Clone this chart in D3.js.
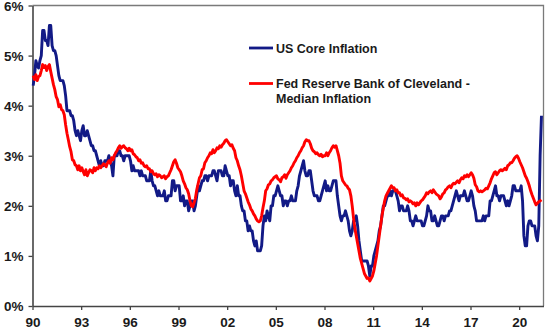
<!DOCTYPE html>
<head>
  <meta charset="utf-8" />
  <script src="https://d3js.org/d3.v7.min.js"></script>
  <style>
    body { margin: 0; background: white; }
    text { font-family: "Liberation Sans", Arial, sans-serif; font-weight: bold; fill: #1a1a1a; }
  </style>
</head>
<body>
  <script>
    // monthly year-on-year %, Jan 1990 -> May 2021
    var startYear = 1990;
    var coreInflation = [
      4.4, 4.6, 4.9, 4.8, 4.75, 4.9, 5.0, 5.5, 5.5, 5.3, 5.3, 5.2,   // 1990
      5.6, 5.6, 5.2, 5.1, 5.1, 5.0, 4.8, 4.6, 4.5, 4.5, 4.5, 4.4,    // 1991
      4.2, 3.9, 3.9, 3.9, 3.8, 3.8, 3.7, 3.5, 3.4, 3.5, 3.4, 3.3,    // 1992
      3.5, 3.6, 3.4, 3.4, 3.5, 3.4, 3.3, 3.2, 3.2, 3.1, 3.1, 3.0,    // 1993
      2.9, 2.8, 2.9, 2.8, 2.8, 2.9, 2.9, 2.9, 3.0, 2.9, 2.8, 2.6,    // 1994
      3.0, 3.0, 3.0, 3.1, 3.1, 3.0, 3.0, 2.9, 3.0, 3.0, 3.0, 3.0,    // 1995
      2.9, 2.7, 2.8, 2.7, 2.7, 2.7, 2.7, 2.6, 2.7, 2.6, 2.6, 2.6,    // 1996
      2.5, 2.5, 2.5, 2.7, 2.5, 2.4, 2.4, 2.3, 2.2, 2.3, 2.2, 2.2,    // 1997
      2.2, 2.3, 2.1, 2.1, 2.2, 2.2, 2.2, 2.5, 2.5, 2.3, 2.4, 2.4,    // 1998
      2.4, 2.1, 2.1, 2.2, 2.0, 2.1, 2.1, 1.9, 2.0, 2.1, 2.1, 1.9,    // 1999
      2.0, 2.2, 2.4, 2.3, 2.4, 2.5, 2.5, 2.6, 2.6, 2.5, 2.6, 2.6,    // 2000
      2.6, 2.7, 2.7, 2.6, 2.5, 2.7, 2.7, 2.7, 2.6, 2.6, 2.8, 2.7,    // 2001
      2.6, 2.6, 2.4, 2.5, 2.5, 2.3, 2.2, 2.4, 2.2, 2.2, 2.0, 1.9,    // 2002
      1.9, 1.7, 1.7, 1.5, 1.6, 1.5, 1.5, 1.3, 1.2, 1.3, 1.1, 1.1,    // 2003
      1.1, 1.2, 1.6, 1.8, 1.7, 1.9, 1.8, 1.7, 2.0, 2.0, 2.2, 2.2,    // 2004
      2.3, 2.4, 2.3, 2.2, 2.2, 2.0, 2.1, 2.1, 2.0, 2.1, 2.1, 2.2,    // 2005
      2.1, 2.1, 2.1, 2.3, 2.4, 2.6, 2.7, 2.8, 2.9, 2.7, 2.6, 2.6,    // 2006
      2.7, 2.7, 2.5, 2.3, 2.2, 2.2, 2.2, 2.1, 2.1, 2.2, 2.3, 2.4,    // 2007
      2.5, 2.3, 2.4, 2.3, 2.3, 2.4, 2.5, 2.5, 2.5, 2.2, 2.0, 1.8,    // 2008
      1.7, 1.8, 1.8, 1.9, 1.8, 1.7, 1.5, 1.4, 1.5, 1.7, 1.7, 1.8,    // 2009
      1.6, 1.3, 1.1, 0.9, 0.9, 0.9, 0.9, 0.9, 0.8, 0.6, 0.8, 0.8,    // 2010
      1.0, 1.1, 1.2, 1.3, 1.5, 1.6, 1.8, 2.0, 2.0, 2.1, 2.2, 2.2,    // 2011
      2.3, 2.2, 2.3, 2.3, 2.3, 2.2, 2.1, 1.9, 2.0, 2.0, 1.9, 1.9,    // 2012
      1.9, 2.0, 1.9, 1.7, 1.7, 1.6, 1.7, 1.8, 1.7, 1.7, 1.7, 1.7,    // 2013
      1.6, 1.6, 1.7, 1.8, 2.0, 1.9, 1.9, 1.7, 1.7, 1.8, 1.7, 1.6,    // 2014
      1.6, 1.7, 1.8, 1.8, 1.7, 1.8, 1.8, 1.8, 1.9, 1.9, 2.0, 2.1,    // 2015
      2.2, 2.3, 2.2, 2.1, 2.2, 2.2, 2.2, 2.3, 2.2, 2.1, 2.1, 2.2,    // 2016
      2.3, 2.2, 2.0, 1.9, 1.7, 1.7, 1.7, 1.7, 1.7, 1.8, 1.7, 1.8,    // 2017
      1.8, 1.8, 2.1, 2.1, 2.2, 2.3, 2.4, 2.2, 2.2, 2.1, 2.2, 2.2,    // 2018
      2.2, 2.1, 2.0, 2.1, 2.0, 2.1, 2.2, 2.4, 2.4, 2.3, 2.3, 2.3,    // 2019
      2.3, 2.4, 2.1, 1.4, 1.2, 1.2, 1.6, 1.7, 1.7, 1.6, 1.6, 1.6,    // 2020
      1.4, 1.3, 1.6, 3.0, 3.8                                        // 2021
    ];
    var medianInflation = [
      4.6, 4.52, 4.62, 4.5, 4.58, 4.6, 4.7, 4.82, 4.76, 4.8, 4.7, 4.78,    // 1990
      4.82, 4.68, 4.55, 4.42, 4.32, 4.18, 4.12, 3.98, 4.02, 3.92, 3.9, 3.82, // 1991
      3.62, 3.45, 3.32, 3.18, 3.08, 2.92, 2.9, 2.82, 2.8, 2.72, 2.8, 2.7,   // 1992
      2.76, 2.68, 2.62, 2.72, 2.6, 2.66, 2.72, 2.7, 2.66, 2.76, 2.7, 2.76,  // 1993
      2.74, 2.8, 2.76, 2.8, 2.84, 2.82, 2.78, 2.86, 2.9, 2.85, 2.96, 2.92,  // 1994
      3.0, 3.06, 3.1, 3.16, 3.2, 3.15, 3.18, 3.2, 3.16, 3.14, 3.1, 3.15,    // 1995
      3.1, 3.12, 3.04, 3.02, 2.98, 2.96, 2.9, 2.92, 2.85, 2.86, 2.8, 2.78,  // 1996
      2.8, 2.74, 2.74, 2.68, 2.7, 2.64, 2.62, 2.64, 2.58, 2.62, 2.6, 2.56,  // 1997
      2.58, 2.6, 2.54, 2.58, 2.6, 2.66, 2.72, 2.8, 2.88, 2.92, 2.85, 2.76,  // 1998
      2.72, 2.68, 2.6, 2.5, 2.44, 2.36, 2.32, 2.24, 2.1, 2.0, 1.98, 2.06,   // 1999
      2.15, 2.32, 2.44, 2.56, 2.6, 2.72, 2.74, 2.86, 2.9, 2.96, 3.0, 3.06,  // 2000
      3.04, 3.12, 3.06, 3.1, 3.16, 3.14, 3.2, 3.17, 3.22, 3.25, 3.3, 3.32,  // 2001
      3.28, 3.24, 3.2, 3.22, 3.15, 3.1, 2.96, 2.9, 2.8, 2.72, 2.6, 2.45,    // 2002
      2.3, 2.24, 2.16, 2.08, 2.02, 1.94, 1.9, 1.84, 1.8, 1.74, 1.7, 1.68,   // 2003
      1.7, 1.8, 1.96, 2.1, 2.3, 2.34, 2.42, 2.44, 2.5, 2.52, 2.56, 2.58,    // 2004
      2.6, 2.54, 2.52, 2.48, 2.56, 2.58, 2.62, 2.55, 2.62, 2.66, 2.7, 2.76, // 2005
      2.8, 2.86, 2.9, 2.96, 3.0, 3.06, 3.1, 3.16, 3.2, 3.28, 3.32, 3.3,     // 2006
      3.3, 3.24, 3.15, 3.1, 3.08, 3.04, 3.06, 3.02, 3.0, 3.03, 2.98, 3.0,   // 2007
      3.0, 3.06, 3.0, 3.06, 3.1, 3.16, 3.2, 3.17, 3.2, 3.1, 3.0, 2.85,      // 2008
      2.6, 2.5, 2.46, 2.42, 2.4, 2.35, 2.32, 2.2, 2.0, 1.75, 1.55, 1.4,     // 2009
      1.25, 1.1, 0.95, 0.85, 0.75, 0.65, 0.6, 0.55, 0.56, 0.5, 0.55, 0.6,   // 2010
      0.7, 0.85, 1.0, 1.2, 1.4, 1.6, 1.8, 1.95, 2.1, 2.2, 2.25, 2.3,        // 2011
      2.35, 2.4, 2.36, 2.36, 2.3, 2.32, 2.26, 2.26, 2.2, 2.22, 2.16, 2.15,  // 2012
      2.12, 2.14, 2.08, 2.1, 2.08, 2.04, 2.06, 2.0, 2.06, 2.02, 2.06, 2.1,  // 2013
      2.12, 2.16, 2.2, 2.26, 2.24, 2.28, 2.3, 2.26, 2.32, 2.28, 2.24, 2.22, // 2014
      2.2, 2.14, 2.18, 2.24, 2.26, 2.32, 2.34, 2.38, 2.4, 2.36, 2.42, 2.45, // 2015
      2.44, 2.47, 2.5, 2.46, 2.52, 2.56, 2.54, 2.6, 2.58, 2.62, 2.58, 2.62, // 2016
      2.66, 2.62, 2.55, 2.42, 2.38, 2.3, 2.28, 2.3, 2.28, 2.3, 2.32, 2.35,  // 2017
      2.34, 2.4, 2.46, 2.54, 2.6, 2.66, 2.68, 2.62, 2.66, 2.7, 2.72, 2.7,   // 2018
      2.72, 2.75, 2.72, 2.8, 2.82, 2.86, 2.86, 2.9, 2.95, 2.98, 3.0, 2.95,  // 2019
      2.88, 2.82, 2.76, 2.68, 2.6, 2.55, 2.48, 2.4, 2.3, 2.22, 2.15, 2.08,  // 2020
      2.02, 2.05, 2.08, 2.1, 2.12                                           // 2021
    ];
    var xTicks = [1990, 1993, 1996, 1999, 2002, 2005, 2008, 2011, 2014, 2017, 2020];
    var xTickLabels = ["90", "93", "96", "99", "02", "05", "08", "11", "14", "17", "20"];
    var yTicks = [0, 1, 2, 3, 4, 5, 6];
    var seriesNames = ["US Core Inflation", "Fed Reserve Bank of Cleveland -|Median Inflation"];
    var seriesColors = ["#121a86", "#ff0000"];

    var width = 548, height = 334;
    var plotLeft = 32.5, plotRight = 543.5, plotTop = 5.5, plotBottom = 306;

    var svg = d3.select("body").append("svg")
      .attr("width", width)
      .attr("height", height);

    var x = d3.scaleLinear().domain([1990, 2021.5]).range([plotLeft, plotRight]);
    var y = d3.scaleLinear().domain([0, 6]).range([plotBottom, plotTop]);

    // plot frame (top / right)
    svg.append("path")
      .attr("d", "M" + plotLeft + "," + plotTop + "H" + plotRight + "V" + plotBottom)
      .attr("fill", "none")
      .attr("stroke", "#7a7a7a")
      .attr("stroke-width", 1.3);

    var xAxis = svg.append("g")
      .attr("transform", "translate(0," + plotBottom + ")")
      .call(d3.axisBottom(x).tickValues(xTicks)
        .tickFormat(function (d, i) { return xTickLabels[i]; })
        .tickSizeInner(4).tickSizeOuter(0).tickPadding(4));

    var yAxis = svg.append("g")
      .attr("transform", "translate(" + plotLeft + ",0)")
      .call(d3.axisLeft(y).tickValues(yTicks)
        .tickFormat(function (d) { return d + "%"; })
        .tickSizeInner(4).tickSizeOuter(0).tickPadding(5));

    [xAxis, yAxis].forEach(function (ax) {
      ax.select(".domain").attr("stroke", "#444").attr("stroke-width", 1.6);
      ax.selectAll(".tick line").attr("stroke", "#444").attr("stroke-width", 1.3);
      ax.selectAll("text").attr("font-size", "13.5px").attr("fill", "#1a1a1a")
        .attr("font-family", "Liberation Sans, Arial, sans-serif").attr("font-weight", "bold");
    });
    xAxis.selectAll("text").attr("dy", "0.95em");
    yAxis.selectAll("text").attr("dy", "0.34em");

    var line = d3.line()
      .x(function (d, i) { return x(startYear + (i + 0.5) / 12); })
      .y(function (d) { return y(d); });

    // blue first, red over it
    [coreInflation, medianInflation].forEach(function (s, k) {
      svg.append("path")
        .datum(s)
        .attr("d", line)
        .attr("fill", "none")
        .attr("stroke", seriesColors[k])
        .attr("stroke-width", 2.9)
        .attr("stroke-linejoin", "round");
    });

    // legend
    var legendY = [48, 83.5];
    seriesNames.forEach(function (name, k) {
      var lg = svg.append("g");
      lg.append("line")
        .attr("x1", 249).attr("x2", 273)
        .attr("y1", legendY[k]).attr("y2", legendY[k])
        .attr("stroke", seriesColors[k])
        .attr("stroke-width", 2.8);
      name.split("|").forEach(function (part, j) {
        lg.append("text")
          .attr("x", 276)
          .attr("y", legendY[k] + 4.5 + j * 15)
          .attr("font-size", "12.5px")
          .text(part);
      });
    });
  </script>
</body>
